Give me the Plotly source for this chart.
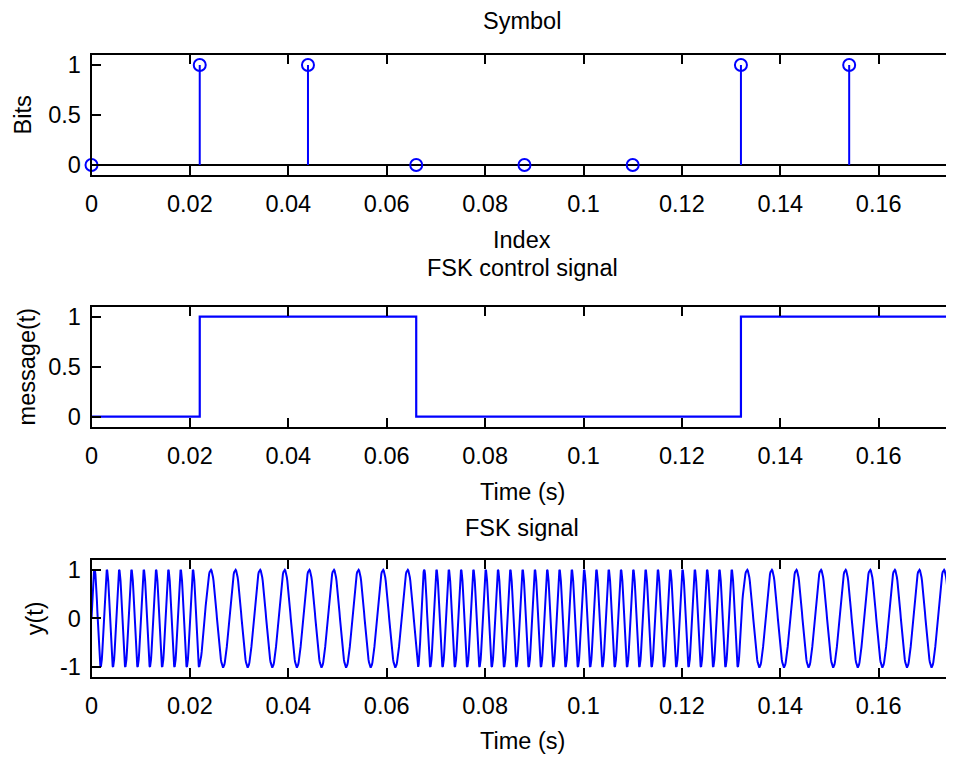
import numpy as np
import plotly.graph_objects as go

# ---------------- data ----------------
bits = [0, 1, 1, 0, 0, 0, 1, 1]
bit_duration = 0.022            # seconds per symbol
freq_for_bit = {0: 400.0, 1: 200.0}   # Hz (FSK tones)
sample_rate = 10000             # Hz

x_tick_vals = [0, 0.02, 0.04, 0.06, 0.08, 0.1, 0.12, 0.14, 0.16]
x_tick_text = ["0", "0.02", "0.04", "0.06", "0.08", "0.1", "0.12", "0.14", "0.16"]
unit_tick_vals = [0, 0.5, 1]
unit_tick_text = ["0", "0.5", "1"]
fsk_tick_vals = [-1, 0, 1]
fsk_tick_text = ["-1", "0", "1"]

titles = ["Symbol", "FSK control signal", "FSK signal"]
x_labels = ["Index", "Time (s)", "Time (s)"]
y_labels = ["Bits", "message(t)", "y(t)"]

# ---------------- derived ----------------
index = [i * bit_duration for i in range(len(bits))]

stem_x, stem_y = [], []
for xi, bi in zip(index, bits):
    stem_x += [xi, xi, None]
    stem_y += [0, bi, None]

edges = [i * bit_duration for i in range(len(bits) + 1)]
levels = bits + [bits[-1]]

t = np.arange(0, len(bits) * bit_duration, 1.0 / sample_rate)
k = np.minimum((t // bit_duration).astype(int), len(bits) - 1)
freqs = np.array([freq_for_bit[b] for b in bits])
cum_cycles = np.concatenate([[0.0], np.cumsum(freqs * bit_duration)])
cycles = cum_cycles[k] + freqs[k] * (t - k * bit_duration)
fsk = np.sin(2 * np.pi * cycles)

BLUE = "#0000FF"
PAGE_W, PAGE_H = 954, 763
OFF = 8                      # default body margin of the html page
W, H = PAGE_W - OFF, PAGE_H - OFF
FONT = "Liberation Sans"
FS = 23.5

fig = go.Figure()
fig.add_trace(go.Scatter(x=stem_x, y=stem_y, mode="lines",
                         line=dict(color=BLUE, width=2), xaxis="x", yaxis="y",
                         hoverinfo="skip"))
fig.add_trace(go.Scatter(x=index, y=bits, mode="markers", cliponaxis=False,
                         marker=dict(symbol="circle-open", size=12, color=BLUE,
                                     line=dict(width=2, color=BLUE)),
                         xaxis="x", yaxis="y"))
fig.add_trace(go.Scatter(x=edges, y=levels, mode="lines", line_shape="hv",
                         line=dict(color=BLUE, width=2.2), xaxis="x2", yaxis="y2"))
fig.add_trace(go.Scatter(x=t, y=fsk, mode="lines",
                         line=dict(color=BLUE, width=2), xaxis="x3", yaxis="y3"))

# plot rectangles in page pixels (top, bottom)
left_px = 91.5
rects = [(55, 175), (306.7, 426.7), (560, 676.7)]
x_end = (PAGE_W - left_px) / 4920.0

def ydom(top, bot):
    return [1 - (bot - OFF) / H, 1 - (top - OFF) / H]

common_x = dict(range=[0, x_end], showline=True, linecolor="black", linewidth=2,
                mirror="ticks", ticks="inside", ticklen=9, tickwidth=1.5,
                tickcolor="black", showgrid=False, zeroline=False,
                tickvals=x_tick_vals, ticktext=x_tick_text,
                tickfont=dict(family=FONT, size=FS, color="black"),
                automargin=False, ticklabelstandoff=7,
                domain=[(left_px - OFF) / W, 1])
common_y = dict(showline=True, linecolor="black", linewidth=2, mirror=False,
                ticks="inside", ticklen=9, tickwidth=1.5, tickcolor="black",
                showgrid=False, tickfont=dict(family=FONT, size=FS, color="black"),
                automargin=False, ticklabelstandoff=4)

layout = dict(width=W, height=H, margin=dict(l=0, r=0, t=0, b=0),
              paper_bgcolor="white", plot_bgcolor="white", showlegend=False)
for i, (top, bot) in enumerate(rects):
    sx = "" if i == 0 else str(i + 1)
    xa = dict(common_x, anchor="y" + sx)
    ya = dict(common_y, anchor="x" + sx, domain=ydom(top, bot))
    if i < 2:
        ya.update(range=[-0.1, 1.1], tickvals=unit_tick_vals, ticktext=unit_tick_text,
                  zeroline=(i == 0), zerolinecolor="black", zerolinewidth=2)
    else:
        ya.update(range=[-1.2, 1.2], tickvals=fsk_tick_vals, ticktext=fsk_tick_text,
                  zeroline=False)
    layout["xaxis" + sx] = xa
    layout["yaxis" + sx] = ya
fig.update_layout(**layout)

title_y = [21, 268, 528]
xlabel_y = [240, 491.5, 741]
ylabel_x = [22.5, 26.7, 35]
cx = (522 - OFF) / W
for i, (top, bot) in enumerate(rects):
    fig.add_annotation(text=titles[i], x=cx, y=1 - (title_y[i] - OFF) / H,
                       xref="paper", yref="paper",
                       showarrow=False, xanchor="center", yanchor="middle",
                       font=dict(family=FONT, size=FS, color="black"))
    fig.add_annotation(text=x_labels[i], x=cx, y=1 - (xlabel_y[i] - OFF) / H,
                       xref="paper", yref="paper",
                       showarrow=False, xanchor="center", yanchor="middle",
                       font=dict(family=FONT, size=FS, color="black"))
    fig.add_annotation(text=y_labels[i], x=(ylabel_x[i] - OFF) / W,
                       y=1 - ((top + bot) / 2 - OFF) / H,
                       xref="paper", yref="paper", textangle=-90,
                       showarrow=False, xanchor="center", yanchor="middle",
                       font=dict(family=FONT, size=FS, color="black"))

fig.write_html("out.html")
